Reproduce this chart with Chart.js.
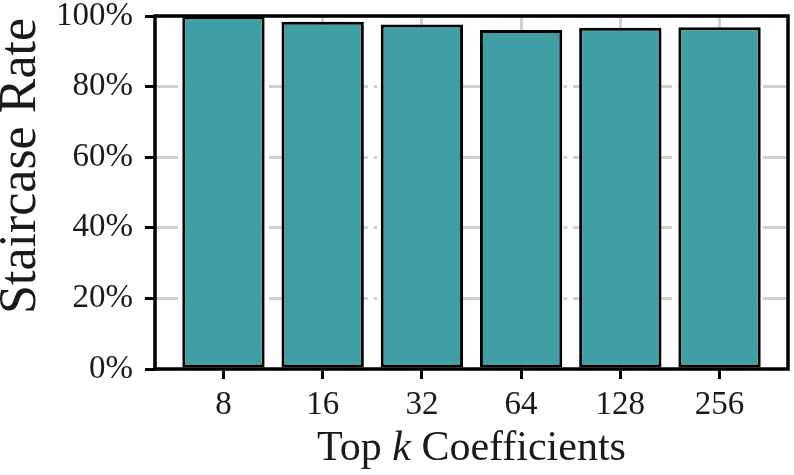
<!DOCTYPE html>
<html>
<head>
<meta charset="utf-8">
<script src="https://cdn.jsdelivr.net/npm/chart.js@4/dist/chart.umd.min.js"></script>
<style>
  html, body { margin: 0; padding: 0; background: #fff; }
  #c { display: block; }
</style>
</head>
<body>
<canvas id="c" width="794" height="475" style="width:794px;height:475px"></canvas>
<script>
// ---- data ----
const categories = ['8', '16', '32', '64', '128', '256'];
const staircaseRate = [100, 98.4, 97.6, 96.0, 96.7, 96.8];
const yTickValues = [0, 20, 40, 60, 80, 100];
const xTitleParts = ['Top ', 'k', ' Coefficients'];
const yTitle = 'Staircase Rate';

const SERIF = '"Liberation Serif", "DejaVu Serif", serif';
const BAR_COLOR = '#3f9fa5';
const GRID_COLOR = '#d0d0d0';
const GRID_DASH = [23, 5.8, 3.4, 5.8];

const points = categories.map((c, i) => ({ x: i, y: staircaseRate[i] }));

const framePlugin = {
  id: 'frame',
  afterDatasetsDraw(chart) {
    const { ctx, chartArea: a } = chart;
    ctx.save();
    ctx.strokeStyle = '#000';
    ctx.lineWidth = 3.5;
    ctx.strokeRect(a.left, a.top, a.right - a.left, a.bottom - a.top);
    ctx.restore();
  },
  afterDraw(chart) {
    const { ctx, chartArea: a } = chart;
    ctx.save();
    ctx.fillStyle = '#1a1a1a';
    ctx.textBaseline = 'alphabetic';
    // x title with italic k
    const fN = '42px ' + SERIF, fI = 'italic 42px ' + SERIF;
    const fonts = [fN, fI, fN];
    const widths = xTitleParts.map((t, i) => { ctx.font = fonts[i]; return ctx.measureText(t).width; });
    const total = widths.reduce((s, w) => s + w, 0);
    let x = (a.left + a.right) / 2 - total / 2;
    xTitleParts.forEach((t, i) => {
      ctx.font = fonts[i];
      ctx.textAlign = 'left';
      ctx.fillText(t, x, 460);
      x += widths[i];
    });
    // y title rotated
    ctx.translate(35, 166);
    ctx.rotate(-Math.PI / 2);
    ctx.font = '52px ' + SERIF;
    ctx.textAlign = 'center';
    ctx.fillText(yTitle, 0, 0);
    ctx.restore();
  }
};

new Chart(document.getElementById('c'), {
  type: 'bar',
  data: {
    datasets: [{
      data: points,
      backgroundColor: BAR_COLOR,
      borderColor: '#000',
      borderWidth: 3,
      borderSkipped: false,
      barPercentage: 0.83,
      categoryPercentage: 1.0
    }]
  },
  options: {
    responsive: false,
    animation: false,
    devicePixelRatio: 1,
    layout: { padding: 0 },
    plugins: { legend: { display: false }, tooltip: { enabled: false } },
    scales: {
      x: {
        type: 'linear',
        offset: false,
        min: -0.69,
        max: 5.69,
        afterBuildTicks: s => { s.ticks = categories.map((c, i) => ({ value: i })); },
        afterFit: s => {
          s.height = 106;
          s.paddingLeft = 0; s.paddingRight = 6; s.paddingTop = 0; s.paddingBottom = 0;
        },
        ticks: {
          callback: (v) => categories[Math.round(v)],
          font: { family: SERIF, size: 33, lineHeight: 1.0 },
          color: '#1a1a1a',
          padding: 10,
          maxRotation: 0,
          autoSkip: false
        },
        grid: {
          offset: false,
          color: GRID_COLOR,
          lineWidth: 3,
          drawTicks: true,
          tickLength: 10,
          tickWidth: 3,
          tickColor: '#000',
          tickBorderDash: []
        },
        border: { display: false, dash: GRID_DASH, dashOffset: 8.3 }
      },
      y: {
        min: 0,
        max: 100,
        afterBuildTicks: s => { s.ticks = yTickValues.map(v => ({ value: v })); },
        afterFit: s => {
          s.width = 155;
          s.paddingTop = 16; s.paddingBottom = 0; s.paddingLeft = 0; s.paddingRight = 0;
        },
        ticks: {
          callback: v => v + '%',
          font: { family: SERIF, size: 33, lineHeight: 1.0 },
          color: '#1a1a1a',
          padding: 12
        },
        grid: {
          color: GRID_COLOR,
          lineWidth: 3,
          drawTicks: true,
          tickLength: 10,
          tickWidth: 3,
          tickColor: '#000',
          tickBorderDash: []
        },
        border: { display: false, dash: GRID_DASH, dashOffset: 0 }
      }
    }
  },
  plugins: [framePlugin]
});
</script>
</body>
</html>
